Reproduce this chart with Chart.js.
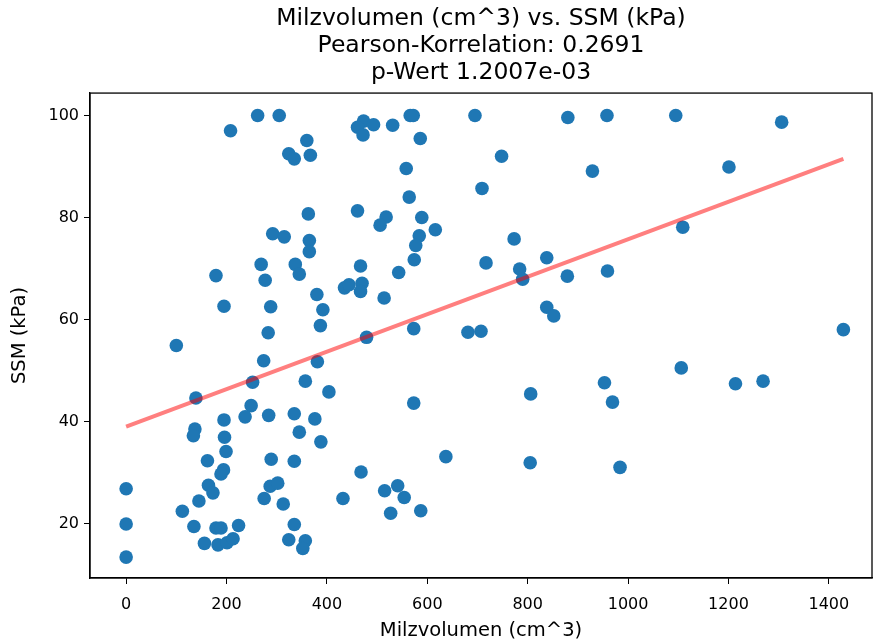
<!DOCTYPE html>
<html>
<head>
<meta charset="utf-8">
<script src="https://cdn.jsdelivr.net/npm/chart.js@4"></script>
<style>
  html, body { margin: 0; padding: 0; background: #fff; }
  #wrap { width: 873px; height: 643px; }
</style>
</head>
<body>
<div id="wrap"><canvas id="c" width="873" height="643"></canvas></div>
<script>
// Milzvolumen (cm^3) per patient
const milzVolumen = [
  262, 305, 208, 324, 335, 360, 367, 473, 461, 472, 493, 531, 566, 572, 586, 558, 564,
  363, 461, 518, 506, 589, 616, 292, 315, 365, 365, 584, 577, 574, 269, 337, 467,
  695, 880, 958, 748, 929, 709, 773, 838, 717, 784, 790, 1095, 1306, 1201, 1109, 1429,
  179, 277, 345, 195, 288, 283, 100, 274, 252, 139, 249, 237, 284, 195,
  435, 444, 470, 467, 380, 514, 543, 392, 387, 573, 479, 381, 357, 404, 573, 335, 376,
  879, 959, 838, 852, 681, 707, 953, 969, 806, 1106, 1214, 1269,
  137, 134, 196, 199, 162, 289, 194, 189, 0, 164, 173, 287, 302, 145, 275, 313, 112,
  0, 135, 179, 189, 224, 156, 183, 201, 213, 0,
  345, 388, 335, 637, 468, 432, 515, 541, 554, 527, 587, 335, 324, 357, 352, 805, 984
];
// SSM (kPa) per patient
const ssm = [
  100, 100, 97.0, 92.5, 91.5, 95.1, 92.2, 98.9, 97.7, 96.2, 98.2, 98.1, 100, 100, 95.5, 89.6, 84.0,
  80.7, 81.3, 80.1, 78.5, 80.0, 77.6, 76.8, 76.2, 75.5, 73.3, 76.4, 74.5, 71.7, 70.8, 70.8, 70.5,
  100, 99.6, 100, 92.0, 89.1, 85.7, 75.8, 72.1, 71.1, 69.9, 67.9, 100, 98.7, 89.9, 78.1, 58.0,
  68.6, 67.7, 68.9, 62.6, 62.5, 57.4, 54.9, 51.9, 47.7, 44.6, 43.1, 40.9, 41.2, 40.3,
  66.2, 66.8, 67.1, 65.5, 64.9, 64.2, 69.2, 61.9, 58.8, 58.2, 56.5, 51.7, 47.9, 45.8, 43.6, 41.5, 40.5,
  68.5, 69.5, 62.4, 60.7, 57.5, 57.7, 47.6, 43.8, 45.4, 50.5, 47.4, 47.9,
  38.5, 37.2, 36.9, 34.1, 32.3, 32.6, 30.5, 29.7, 26.8, 27.5, 26.0, 27.3, 27.9, 24.4, 24.9, 23.8, 22.4,
  19.9, 19.4, 19.1, 19.1, 19.6, 16.1, 15.8, 16.2, 17.0, 13.4,
  37.9, 36.0, 32.2, 33.1, 30.1, 24.9, 26.4, 27.4, 25.1, 22.0, 22.5, 19.8, 16.8, 16.6, 15.1, 31.9, 31.0
];
// Regression line end points
const fitX = [0, 1429];
const fitY = [39.0, 91.5];

const xTicks = [0, 200, 400, 600, 800, 1000, 1200, 1400];
const yTicks = [20, 40, 60, 80, 100];

const titleLines = [
  'Milzvolumen (cm^3) vs. SSM (kPa)',
  'Pearson-Korrelation: 0.2691',
  'p-Wert 1.2007e-03'
];

const FONT = "'DejaVu Sans', sans-serif";

// matplotlib-style box around the axes
const framePlugin = {
  id: 'frame',
  afterDraw(chart) {
    const a = chart.chartArea;
    const ctx = chart.ctx;
    ctx.save();
    ctx.strokeStyle = '#000';
    ctx.lineWidth = 1.3;
    ctx.strokeRect(a.left, a.top, a.right - a.left, a.bottom - a.top);
    ctx.restore();
  }
};

new Chart(document.getElementById('c').getContext('2d'), {
  type: 'scatter',
  data: {
    datasets: [
      {
        type: 'scatter',
        data: milzVolumen.map((v, i) => ({ x: v, y: ssm[i] })),
        backgroundColor: '#1f77b4',
        borderWidth: 0,
        pointRadius: 6.8,
        pointHoverRadius: 6.8,
        order: 2
      },
      {
        type: 'line',
        data: fitX.map((v, i) => ({ x: v, y: fitY[i] })),
        borderColor: 'rgba(255, 0, 0, 0.5)',
        borderWidth: 4,
        pointRadius: 0,
        fill: false,
        order: 1
      }
    ]
  },
  options: {
    responsive: false,
    devicePixelRatio: 1,
    animation: false,
    events: [],
    layout: { autoPadding: false, padding: { left: 0, right: 1, top: 0, bottom: 0 } },
    plugins: {
      legend: { display: false },
      tooltip: { enabled: false },
      title: {
        display: true,
        fullSize: false,
        text: titleLines,
        color: '#000',
        font: { family: FONT, size: 23.5, weight: 'normal', lineHeight: 1.15 },
        padding: { top: 5, bottom: 7 }
      }
    },
    scales: {
      x: {
        type: 'linear',
        min: -72,
        max: 1486,
        afterBuildTicks: s => { s.ticks = xTicks.map(v => ({ value: v })); },
        afterFit: s => { s.height = 65; s.paddingLeft = 0; s.paddingRight = 0; },
        grid: { drawOnChartArea: false, color: '#000', tickLength: 6 },
        border: { color: '#000', width: 1.3 },
        ticks: {
          color: '#000', font: { family: FONT, size: 16 }, padding: 11, maxRotation: 0,
          callback: v => String(v)
        },
        title: {
          display: true,
          text: 'Milzvolumen (cm^3)',
          color: '#000',
          font: { family: FONT, size: 19.5 },
          padding: { top: 0, bottom: 0 }
        }
      },
      y: {
        type: 'linear',
        min: 9.3,
        max: 104.4,
        afterBuildTicks: s => { s.ticks = yTicks.map(v => ({ value: v })); },
        afterFit: s => { s.width = 90; },
        grid: { drawOnChartArea: false, color: '#000', tickLength: 6 },
        border: { color: '#000', width: 1.3 },
        ticks: { color: '#000', font: { family: FONT, size: 16 }, padding: 5, callback: v => String(v) },
        title: {
          display: true,
          text: 'SSM (kPa)',
          color: '#000',
          font: { family: FONT, size: 19.5 },
          padding: { top: 8, bottom: 0 }
        }
      }
    }
  },
  plugins: [framePlugin]
});
</script>
</body>
</html>
